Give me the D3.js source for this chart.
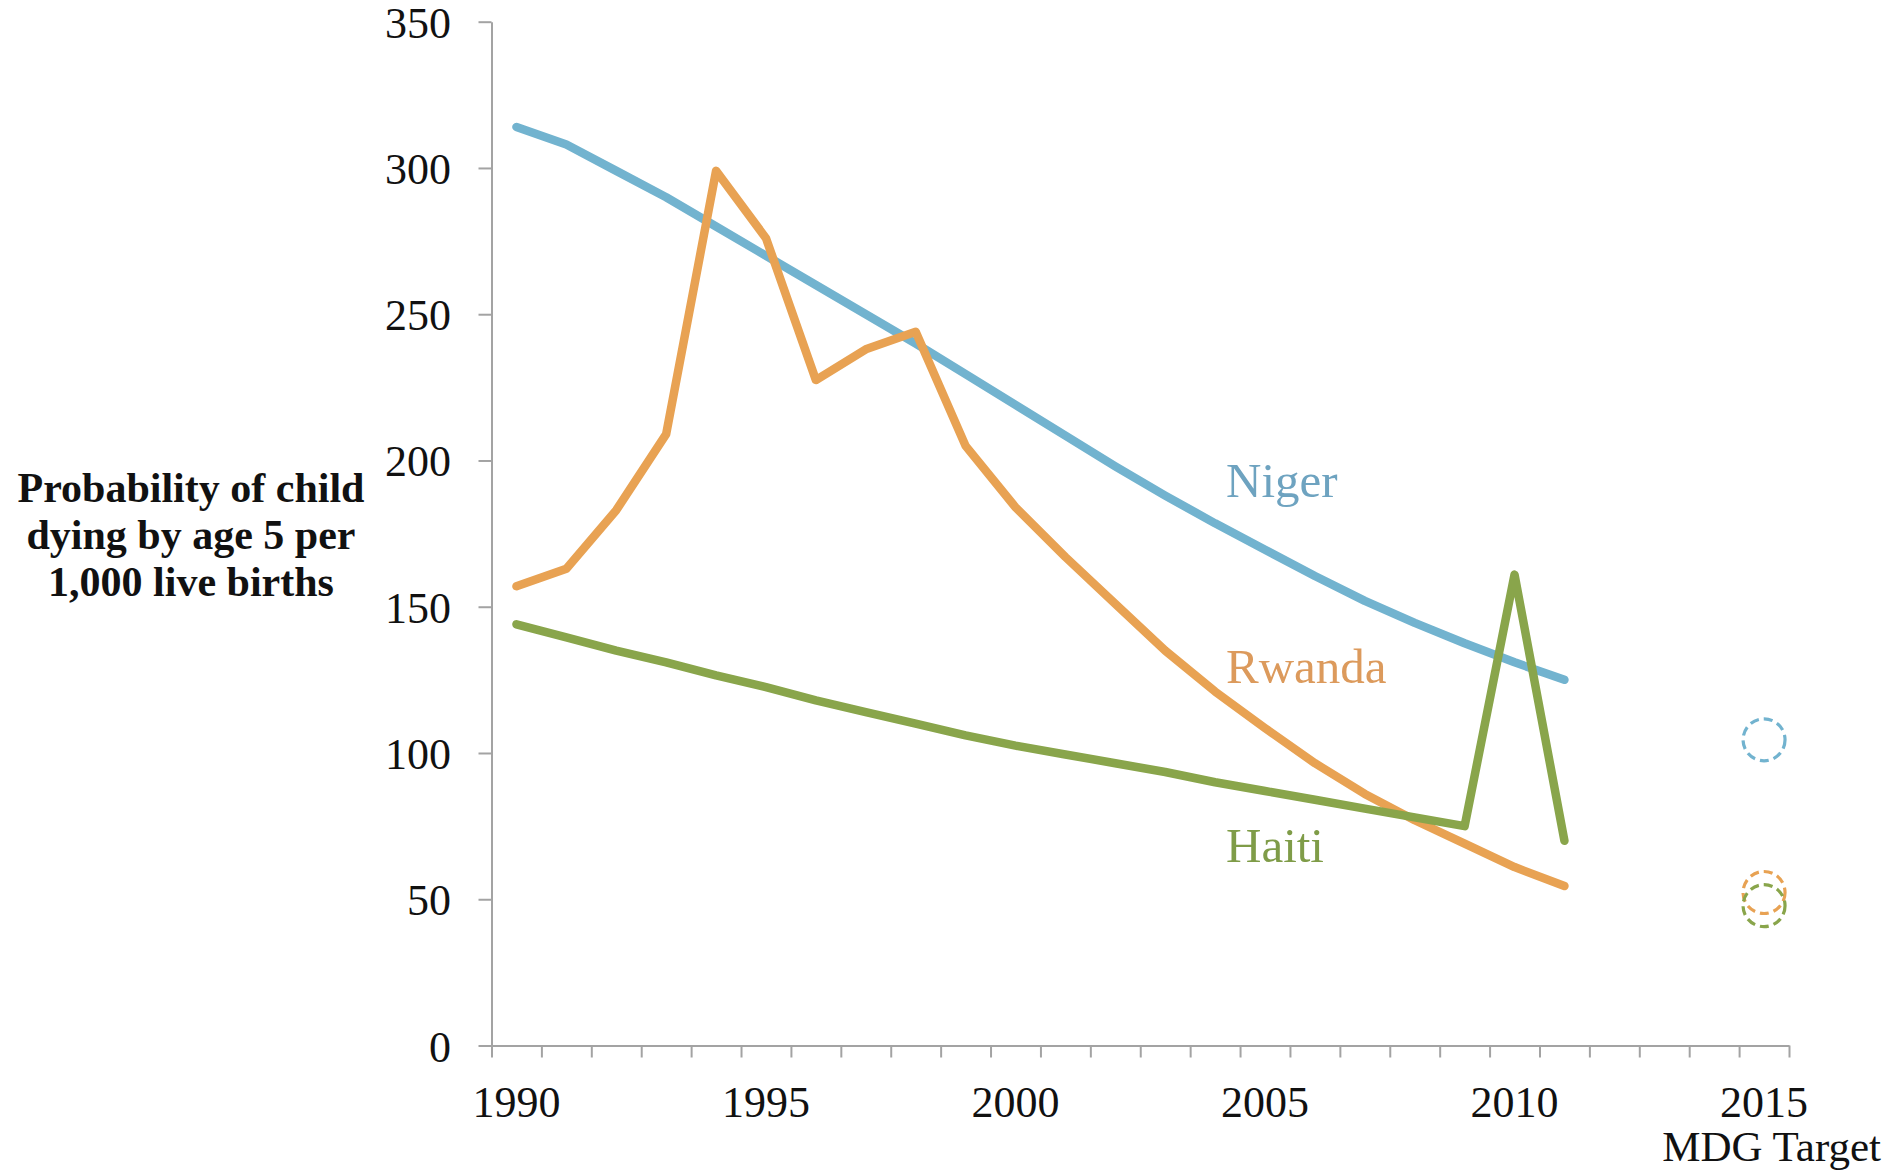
<!DOCTYPE html>
<html>
<head>
<meta charset="utf-8">
<script src="https://cdn.jsdelivr.net/npm/d3@7"></script>
<style>
  html, body { margin: 0; padding: 0; background: #fff; }
  svg { display: block; }
</style>
</head>
<body>
<svg id="chart" width="1889" height="1172"></svg>
<script>
// ---- data ----
const years = d3.range(1990, 2012);
const niger  = [314, 308, 299, 290, 280, 270, 260, 250, 240, 229.5, 219, 208.5, 198, 188, 178.5, 169.5, 160.5, 152, 144.5, 137.5, 131, 125];
const rwanda = [157, 163, 183, 209, 299, 276, 227.5, 238, 244, 205, 184, 167, 151, 135, 121, 108.5, 96.5, 86, 77, 69, 61, 54.5];
const haiti  = [144, 139.5, 135, 131, 126.5, 122.5, 118, 114, 110, 106, 102.5, 99.5, 96.5, 93.5, 90, 87, 84, 81, 78, 75, 161, 70];
const targetYear = 2015;
const targets = [ {name: "Rwanda", value: 52.3}, {name: "Haiti", value: 47.8}, {name: "Niger", value: 104.5} ];
const yTicks = [0, 50, 100, 150, 200, 250, 300, 350];
const xLabelYears = [1990, 1995, 2000, 2005, 2010, 2015];
const axisTitle = ["Probability of child", "dying by age 5 per", "1,000 live births"];
const targetLabel = "MDG Target";

const series = [
  {name: "Niger",  values: niger,  color: "#72b3cf", text: "#6ea3c0"},
  {name: "Rwanda", values: rwanda, color: "#e8a253", text: "#dc9a5c"},
  {name: "Haiti",  values: haiti,  color: "#89a54b", text: "#7f9c48"}
];
const colorOf = Object.fromEntries(series.map(s => [s.name, s.color]));

// ---- layout ----
const svg = d3.select("#chart");
const plotLeft = 491.5, plotRight = 1789, plotTop = 21.7, plotBottom = 1045.5;
const x = d3.scaleLinear().domain([1989.5, 2015.5]).range([plotLeft, plotRight]);
const y = d3.scaleLinear().domain([0, 350]).range([plotBottom, plotTop]);
const serif = "'Liberation Serif', 'Times New Roman', serif";
const axisColor = "#a3a3a3";

// y axis
const yAxis = svg.append("g").attr("transform", `translate(${plotLeft},0)`)
  .call(d3.axisLeft(y).tickValues(yTicks).tickSize(13).tickSizeOuter(0).tickFormat(""));
yAxis.selectAll("path, line").attr("stroke", axisColor).attr("stroke-width", 2);
svg.append("g").selectAll("text").data(yTicks).join("text")
  .attr("x", 451).attr("y", d => y(d) + 16)
  .attr("text-anchor", "end")
  .attr("font-family", serif).attr("font-size", 44).attr("fill", "#111")
  .text(d => d);

// x axis (ticks between categories)
const edges = d3.range(1989.5, 2016, 1);
const xAxis = svg.append("g").attr("transform", `translate(0,${plotBottom})`)
  .call(d3.axisBottom(x).tickValues(edges).tickSize(12).tickSizeOuter(0).tickFormat(""));
xAxis.selectAll("path, line").attr("stroke", axisColor).attr("stroke-width", 2);
svg.append("g").selectAll("text").data(xLabelYears).join("text")
  .attr("x", d => x(d)).attr("y", 1117)
  .attr("text-anchor", "middle")
  .attr("font-family", serif).attr("font-size", 44).attr("fill", "#111")
  .text(d => d);
svg.append("text")
  .attr("x", 1881).attr("y", 1161)
  .attr("text-anchor", "end")
  .attr("font-family", serif).attr("font-size", 43).attr("fill", "#111")
  .text(targetLabel);

// axis title
svg.append("g").selectAll("text").data(axisTitle).join("text")
  .attr("x", 191).attr("y", (d, i) => 502 + i * 47)
  .attr("text-anchor", "middle")
  .attr("font-family", serif).attr("font-weight", "bold").attr("font-size", 42).attr("fill", "#111")
  .text(d => d);

// lines
const line = d3.line().x((d, i) => x(years[i])).y(d => y(d));
svg.append("g").selectAll("path").data(series).join("path")
  .attr("d", s => line(s.values))
  .attr("fill", "none")
  .attr("stroke", s => s.color)
  .attr("stroke-width", 8.5)
  .attr("stroke-linecap", "round")
  .attr("stroke-linejoin", "round");

// series labels
const labelBaselines = {Niger: 496.7, Rwanda: 683, Haiti: 862};
svg.append("g").selectAll("text").data(series).join("text")
  .attr("x", 1226).attr("y", s => labelBaselines[s.name])
  .attr("font-family", serif).attr("font-size", 49)
  .attr("fill", s => s.text)
  .text(s => s.name);

// MDG target circles
svg.append("g").selectAll("circle").data(targets).join("circle")
  .attr("cx", x(targetYear)).attr("cy", d => y(d.value)).attr("r", 21)
  .attr("fill", "none")
  .attr("stroke", d => colorOf[d.name])
  .attr("stroke-width", 3.2)
  .attr("stroke-dasharray", "9,5");
</script>
</body>
</html>
